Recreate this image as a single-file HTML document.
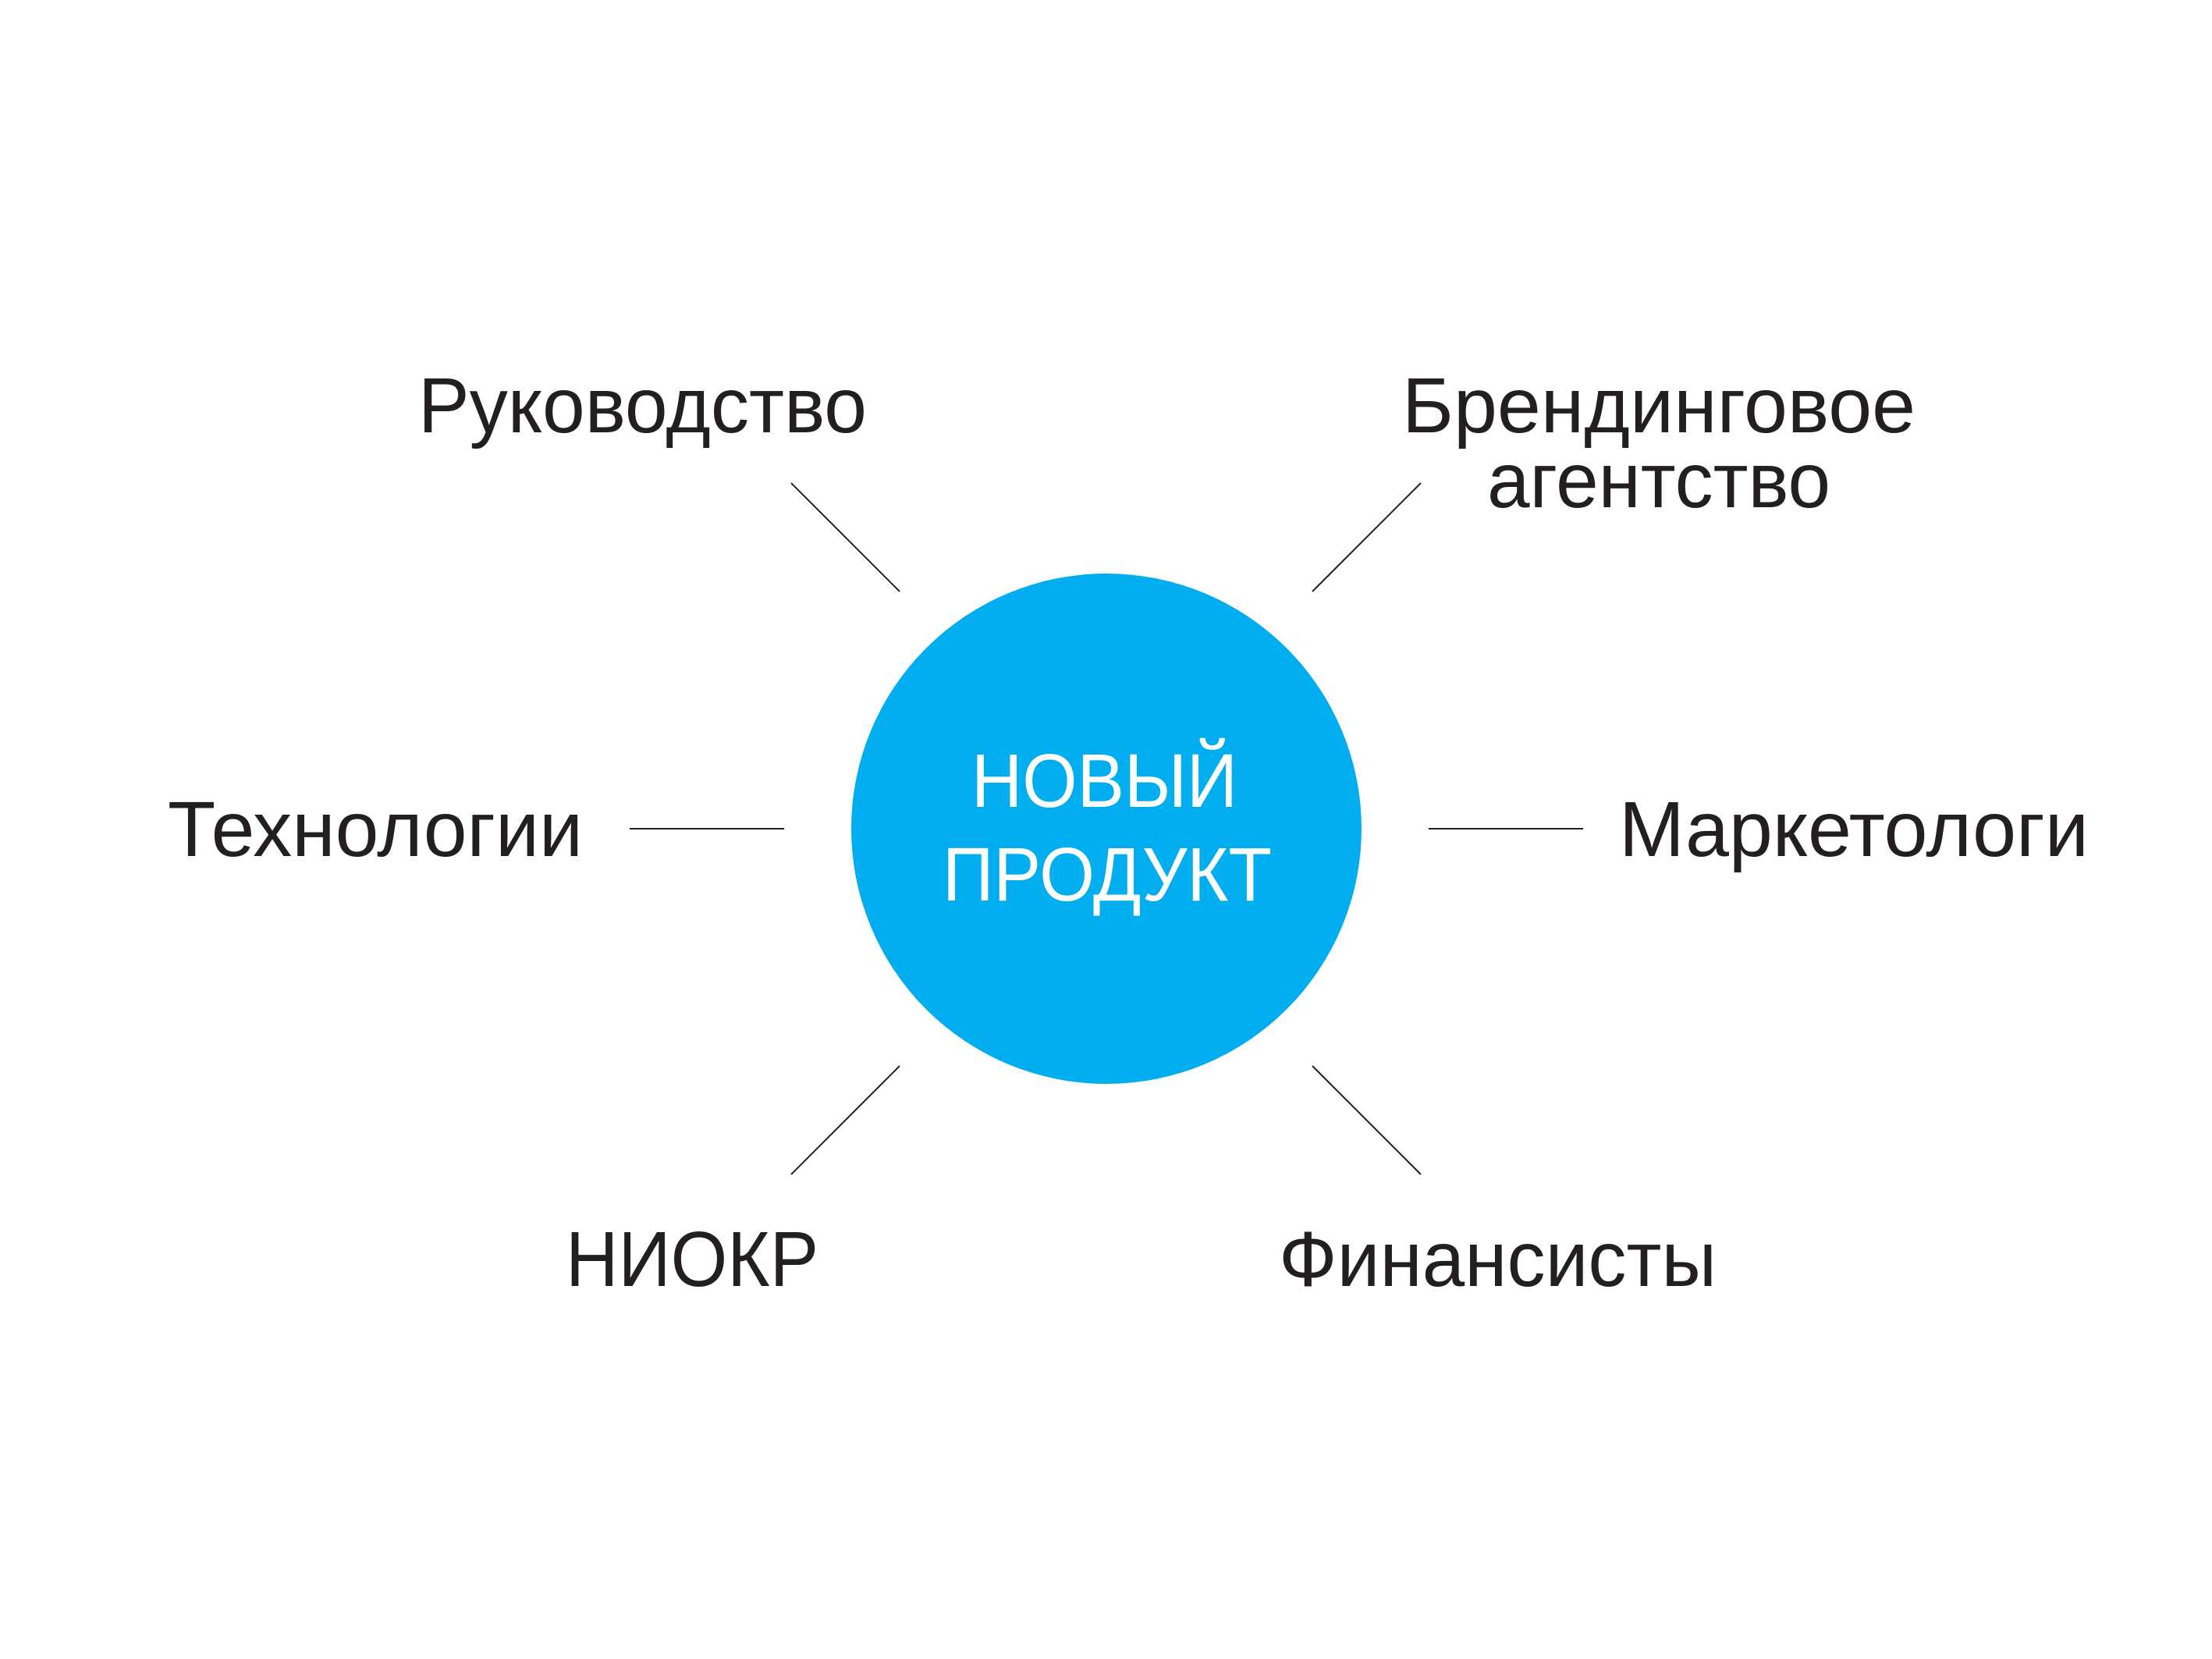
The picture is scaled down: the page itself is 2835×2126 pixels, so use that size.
<!DOCTYPE html>
<html><head><meta charset="utf-8"><style>
html,body{margin:0;padding:0;background:#fff;}
svg{display:block;}
text{font-family:"Liberation Sans",sans-serif;font-size:100px;fill:#231f20;}
</style></head><body>
<svg width="2835" height="2126" viewBox="0 0 2835 2126">
<rect width="2835" height="2126" fill="#fff"/>
<circle cx="1418" cy="1062" r="327" fill="#00adee"/>
<g stroke="#231f20" stroke-width="2">
<line x1="1014" y1="619" x2="1153" y2="758"/>
<line x1="1682" y1="758" x2="1821" y2="619"/>
<line x1="807" y1="1062" x2="1005" y2="1062"/>
<line x1="1831" y1="1062" x2="2029" y2="1062"/>
<line x1="1014" y1="1505" x2="1153" y2="1366"/>
<line x1="1682" y1="1366" x2="1821" y2="1505"/>
</g>
<text x="536" y="554" textLength="575" lengthAdjust="spacingAndGlyphs">Руководство</text>
<text x="1797" y="554" textLength="658" lengthAdjust="spacingAndGlyphs">Брендинговое</text>
<text x="1906" y="650" textLength="440" lengthAdjust="spacingAndGlyphs">агентство</text>
<text x="215" y="1097" textLength="532" lengthAdjust="spacingAndGlyphs">Технологии</text>
<text x="2075" y="1097" textLength="602" lengthAdjust="spacingAndGlyphs">Маркетологи</text>
<text x="725" y="1648" textLength="324" lengthAdjust="spacingAndGlyphs">НИОКР</text>
<text x="1639" y="1648" textLength="561" lengthAdjust="spacingAndGlyphs">Финансисты</text>
<text x="1245" y="1034" textLength="341" lengthAdjust="spacingAndGlyphs" style="fill:#fff;font-size:97px">НОВЫЙ</text>
<text x="1208" y="1154" textLength="422" lengthAdjust="spacingAndGlyphs" style="fill:#fff;font-size:97px">ПРОДУКТ</text>
</svg>
</body></html>
